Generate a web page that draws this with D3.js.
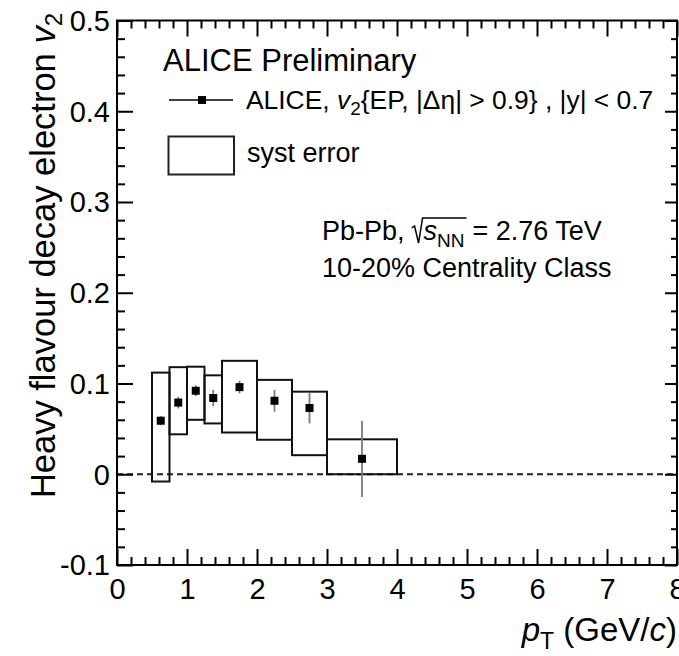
<!DOCTYPE html>
<html>
<head>
<meta charset="utf-8">
<script src="https://cdn.jsdelivr.net/npm/d3@7"></script>
<style>
  html, body { margin: 0; padding: 0; background: #fff; }
  svg { display: block; }
  text { font-family: "Liberation Sans", Arial, Helvetica, sans-serif; fill: #000; }
</style>
</head>
<body>
<svg id="chart" width="679" height="656"></svg>
<script>
// ---- data ----
const binLow    = [0.5, 0.75, 1.0, 1.25, 1.5, 2.0, 2.5, 3.0];
const binHigh   = [0.75, 1.0, 1.25, 1.5, 2.0, 2.5, 3.0, 4.0];
const ptCenter  = [0.625, 0.875, 1.125, 1.375, 1.75, 2.25, 2.75, 3.5];
const v2        = [0.059, 0.079, 0.092, 0.084, 0.096, 0.081, 0.073, 0.017];
const statErr   = [0.005, 0.0065, 0.006, 0.009, 0.007, 0.012, 0.017, 0.042];
const systLow   = [-0.008, 0.044, 0.060, 0.056, 0.046, 0.038, 0.021, 0.0];
const systHigh  = [0.112, 0.118, 0.1185, 0.109, 0.125, 0.104, 0.091, 0.0385];
const xMajorTicks = [0, 1, 2, 3, 4, 5, 6, 7, 8];
const yMajorTicks = [-0.1, 0, 0.1, 0.2, 0.3, 0.4, 0.5];
const xTickLabels = ["0", "1", "2", "3", "4", "5", "6", "7", "8"];
const yTickLabels = ["-0.1", "0", "0.1", "0.2", "0.3", "0.4", "0.5"];

const svg = d3.select("#chart");
const L = 117, R = 677, T = 20.5, B = 565;
const x = d3.scaleLinear().domain([0, 8]).range([L, R]);
const y = d3.scaleLinear().domain([-0.1, 0.5]).range([B, T]);

const xMinor = d3.range(0, 8.0001, 0.2).filter(v => Math.abs(v - Math.round(v)) > 1e-6);
const yMinor = d3.range(-0.1, 0.5001, 0.02).filter(v => Math.abs(v*10 - Math.round(v*10)) > 1e-6);

// dashed zero line
svg.append("line")
  .attr("x1", x(0)).attr("x2", x(8)).attr("y1", y(0)).attr("y2", y(0))
  .attr("stroke", "#222").attr("stroke-width", 2).attr("stroke-dasharray", "6,4");

// systematic boxes
const rows = binLow.map((d, i) => ({lo: d, hi: binHigh[i], c: ptCenter[i], v: v2[i], e: statErr[i], sl: systLow[i], sh: systHigh[i]}));
svg.append("g").selectAll("rect").data(rows).join("rect")
  .attr("x", d => x(d.lo)).attr("width", d => x(d.hi) - x(d.lo))
  .attr("y", d => y(d.sh)).attr("height", d => y(d.sl) - y(d.sh))
  .attr("fill", "none").attr("stroke", "#111").attr("stroke-width", 2);

// stat error bars
svg.append("g").selectAll("line").data(rows).join("line")
  .attr("x1", d => x(d.c)).attr("x2", d => x(d.c))
  .attr("y1", d => y(d.v + d.e)).attr("y2", d => y(d.v - d.e))
  .attr("stroke", "#7a7a7a").attr("stroke-width", 1.8);

// markers
const ms = 8;
svg.append("g").selectAll("rect").data(rows).join("rect")
  .attr("x", d => x(d.c) - ms/2).attr("y", d => y(d.v) - ms/2)
  .attr("width", ms).attr("height", ms).attr("fill", "#000");

// axes (ticks inward)
function styleAxis(g) {
  g.select(".domain").remove();
  g.selectAll(".tick line").attr("stroke", "#000").attr("stroke-width", 2);
}
svg.append("g").attr("transform", `translate(0,${B})`)
  .call(d3.axisBottom(x).tickValues(xMajorTicks).tickSize(-16).tickFormat((d, i) => xTickLabels[i]))
  .call(styleAxis)
  .call(g => g.selectAll("text").attr("font-size", 29).attr("font-family", "Liberation Sans, Arial, sans-serif")
    .attr("y", 34).attr("dy", 0));
svg.append("g").attr("transform", `translate(0,${B})`)
  .call(d3.axisBottom(x).tickValues(xMinor).tickSize(-8).tickFormat(""))
  .call(styleAxis);
svg.append("g").attr("transform", `translate(0,${T})`)
  .call(d3.axisTop(x).tickValues(xMajorTicks).tickSize(-16).tickFormat(""))
  .call(styleAxis);
svg.append("g").attr("transform", `translate(0,${T})`)
  .call(d3.axisTop(x).tickValues(xMinor).tickSize(-8).tickFormat(""))
  .call(styleAxis);
svg.append("g").attr("transform", `translate(${L},0)`)
  .call(d3.axisLeft(y).tickValues(yMajorTicks).tickSize(-16).tickFormat((d, i) => yTickLabels[i]))
  .call(styleAxis)
  .call(g => g.selectAll("text").attr("font-size", 29).attr("font-family", "Liberation Sans, Arial, sans-serif")
    .attr("x", -7).attr("dy", "0.34em"));
svg.append("g").attr("transform", `translate(${L},0)`)
  .call(d3.axisLeft(y).tickValues(yMinor).tickSize(-8).tickFormat(""))
  .call(styleAxis);
svg.append("g").attr("transform", `translate(${R},0)`)
  .call(d3.axisRight(y).tickValues(yMajorTicks).tickSize(-12).tickFormat(""))
  .call(styleAxis);
svg.append("g").attr("transform", `translate(${R},0)`)
  .call(d3.axisRight(y).tickValues(yMinor).tickSize(-6).tickFormat(""))
  .call(styleAxis);

// frame
svg.append("rect").attr("x", L).attr("y", T).attr("width", R - L).attr("height", B - T)
  .attr("fill", "none").attr("stroke", "#000").attr("stroke-width", 2);

// axis titles
const yt = svg.append("text")
  .attr("transform", "translate(55,13) rotate(-90)")
  .attr("text-anchor", "end").attr("font-size", 34.5);
yt.append("tspan").text("Heavy flavour decay electron ");
yt.append("tspan").attr("font-style", "italic").text("v");
yt.append("tspan").attr("font-size", 24).attr("dy", 7).text("2");

const xt = svg.append("text").attr("x", 677).attr("y", 641).attr("text-anchor", "end").attr("font-size", 33);
xt.append("tspan").attr("font-style", "italic").text("p");
xt.append("tspan").attr("font-size", 23).attr("dy", 8).text("T");
xt.append("tspan").attr("dy", -8).text(" (GeV/");
xt.append("tspan").attr("font-style", "italic").text("c");
xt.append("tspan").text(")");

// legend
svg.append("text").attr("x", 163).attr("y", 71).attr("font-size", 31).text("ALICE Preliminary");

svg.append("line").attr("x1", 169).attr("x2", 233).attr("y1", 100).attr("y2", 100)
  .attr("stroke", "#000").attr("stroke-width", 1.5);
svg.append("rect").attr("x", 202 - ms/2).attr("y", 100 - ms/2).attr("width", ms).attr("height", ms).attr("fill", "#000");
const l1 = svg.append("text").attr("x", 246).attr("y", 109).attr("font-size", 26.4);
l1.append("tspan").text("ALICE, ");
l1.append("tspan").attr("font-style", "italic").text("v");
l1.append("tspan").attr("font-size", 19).attr("dy", 6).text("2");
l1.append("tspan").attr("dy", -6).text("{EP, |Δη| > 0.9} , |y| < 0.7");

svg.append("rect").attr("x", 168.5).attr("y", 136.5).attr("width", 65.5).attr("height", 38)
  .attr("fill", "none").attr("stroke", "#222").attr("stroke-width", 2);
svg.append("text").attr("x", 247).attr("y", 162).attr("font-size", 27).text("syst error");

// system text
const tx0 = 322;
const tA = svg.append("text").attr("x", tx0).attr("y", 240).attr("font-size", 27).text("Pb-Pb,");
const wA = tA.node().getComputedTextLength();
const rx = tx0 + wA + 7;
const tB = svg.append("text").attr("x", rx + 12).attr("y", 240).attr("font-size", 27);
tB.append("tspan").attr("font-style", "italic").text("s");
tB.append("tspan").attr("font-size", 19).attr("dy", 7).text("NN");
const wB = tB.node().getComputedTextLength();
const xEnd = rx + 12 + wB + 2;
svg.append("path")
  .attr("d", `M${rx},${228} L${rx+3},${226} L${rx+7},${243} L${rx+11},${218} L${xEnd},${218}`)
  .attr("fill", "none").attr("stroke", "#000").attr("stroke-width", 1.5);
svg.append("text").attr("x", xEnd + 6).attr("y", 240).attr("font-size", 27).text("= 2.76 TeV");
svg.append("text").attr("x", tx0).attr("y", 277).attr("font-size", 27).text("10-20% Centrality Class");
</script>
</body>
</html>
